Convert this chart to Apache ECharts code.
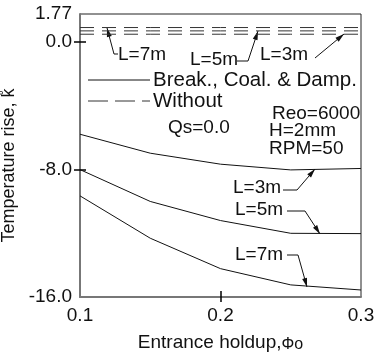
<!DOCTYPE html>
<html>
<head>
<meta charset="utf-8">
<script src="https://cdn.jsdelivr.net/npm/echarts@6/dist/echarts.min.js"></script>
<style>
  html, body { margin: 0; padding: 0; background: #fff; }
  #chart { width: 375px; height: 353px; }
</style>
</head>
<body>
<div id="chart"></div>
<script>
const holdup = [0.1, 0.15, 0.2, 0.25, 0.3];

// Break., Coal. & Damp. (solid)
const solidL3 = [-5.78, -6.97, -7.66, -8.02, -7.93];
const solidL5 = [-8.0, -10.0, -11.2, -12.0, -12.02];
const solidL7 = [-9.65, -12.31, -14.22, -15.24, -15.56];

// Without (dashed)
const dashL7 = [0.92, 0.92, 0.92, 0.92, 0.92];
const dashL5 = [0.71, 0.71, 0.71, 0.71, 0.71];
const dashL3 = [0.5, 0.5, 0.5, 0.5, 0.5];

const yLabels = [-16, -8, 0, 1.77];
const crossTicksY = [0, -8];
const crossTicksX = [0.2];

const FONT = "19px 'Liberation Sans', Arial, sans-serif";
const INK = "#111";

const chart = echarts.init(document.getElementById("chart"));

function pairs(ys) {
  return holdup.map((x, i) => [x, ys[i]]);
}

function lineSeries(name, ys, dashed) {
  return {
    name: name,
    type: "line",
    data: pairs(ys),
    symbol: "none",
    silent: true,
    animation: false,
    lineStyle: {
      color: dashed ? "#333" : INK,
      width: 1,
      type: dashed ? [14, 8] : "solid",
    },
  };
}

function text(str, x, y, font) {
  return {
    type: "text",
    silent: true,
    style: { text: str, x: x, y: y, font: font || FONT, fill: INK, verticalAlign: "middle" },
  };
}

// leader line with a filled arrow head at the last point
function leader(points) {
  const n = points.length;
  const [x1, y1] = points[n - 2];
  const [x2, y2] = points[n - 1];
  const len = Math.hypot(x2 - x1, y2 - y1);
  const ux = (x2 - x1) / len, uy = (y2 - y1) / len;
  const bx = x2 - ux * 9, by = y2 - uy * 9;
  const w = 2.5;
  return [
    {
      type: "polyline",
      silent: true,
      shape: { points: points },
      style: { stroke: INK, lineWidth: 1, fill: null },
    },
    {
      type: "polygon",
      silent: true,
      shape: { points: [[x2, y2], [bx - uy * w, by + ux * w], [bx + uy * w, by - ux * w]] },
      style: { fill: INK },
    },
  ];
}

const LEG_FONT = "20.5px 'Liberation Sans', Arial, sans-serif";

const graphics = [
  { type: "line", silent: true, shape: { x1: 88, y1: 80, x2: 150, y2: 80 }, style: { stroke: INK, lineWidth: 1 } },
  text("Break., Coal. & Damp.", 153, 80, LEG_FONT),
  { type: "line", silent: true, shape: { x1: 88, y1: 101, x2: 150, y2: 101 }, style: { stroke: "#333", lineWidth: 1, lineDash: [20, 7] } },
  text("Without", 153, 101, LEG_FONT),
  text("Reo=6000", 272, 114),
  text("Qs=0.0", 168, 128),
  text("H=2mm", 269, 131),
  text("RPM=50", 269, 149),
  text("L=7m", 118, 55),
  text("L=5m", 190, 60),
  text("L=3m", 260, 55),
  text("L=3m", 233, 188),
  text("L=5m", 235, 210),
  text("L=7m", 235, 255),
]
  .concat(leader([[118, 54], [114, 54], [107, 28]]))
  .concat(leader([[237, 61], [248, 61], [258, 31]]))
  .concat(leader([[315, 58], [344, 34]]))
  .concat(leader([[283, 190], [297, 190], [315, 169]]))
  .concat(leader([[287, 211], [305, 211], [320, 234]]))
  .concat(leader([[287, 255], [298, 255], [307, 287]]));

const tickStyle = { color: "#000", width: 1.5 };

const option = {
  animation: false,
  grid: {
    left: 80,
    right: 14,
    top: 14,
    bottom: 56,
    outerBoundsMode: "none",
    containLabel: false,
    show: true,
    borderColor: "#222",
    borderWidth: 1,
  },
  xAxis: [
    {
      type: "value",
      min: 0.1,
      max: 0.3,
      interval: 0.1,
      position: "bottom",
      name: "Entrance holdup,{s|Φo}",
      nameLocation: "middle",
      nameGap: 36,
      nameTextStyle: {
        color: INK,
        fontSize: 19,
        fontFamily: "Liberation Sans",
        rich: { s: { fontSize: 16, fontFamily: "Liberation Sans", color: INK, padding: [4, 0, 0, 0] } },
      },
      axisLine: { onZero: false, lineStyle: { color: "#777", width: 2 } },
      axisTick: { show: true, inside: true, length: 6, customValues: crossTicksX, lineStyle: tickStyle },
      axisLabel: {
        color: INK,
        fontSize: 19,
        fontFamily: "Liberation Sans",
        margin: 9,
        formatter: (v) => v.toFixed(1),
      },
      splitLine: { show: false },
    },
    {
      type: "value",
      min: 0.1,
      max: 0.3,
      interval: 0.1,
      position: "top",
      offset: -283,
      axisLine: { show: false, onZero: false },
      axisTick: { show: true, inside: true, length: 5, customValues: crossTicksX, lineStyle: tickStyle },
      axisLabel: { show: false },
      splitLine: { show: false },
    },
  ],
  yAxis: [
    {
      type: "value",
      min: -16,
      max: 1.77,
      interval: 8,
      position: "left",
      name: "Temperature rise, k\u030A",
      nameLocation: "middle",
      nameGap: 60,
      nameTextStyle: { color: INK, fontSize: 18, fontFamily: "Liberation Sans", padding: [0, 20, 0, 0] },
      axisLine: { onZero: false, lineStyle: { color: "#777", width: 2 } },
      axisTick: { show: true, inside: true, length: 6, customValues: crossTicksY, lineStyle: tickStyle },
      axisLabel: {
        color: INK,
        fontSize: 19,
        fontFamily: "Liberation Sans",
        margin: 8,
        customValues: yLabels,
        formatter: (v) => (v === 1.77 ? "1.77" : v.toFixed(1)),
      },
      splitLine: { show: false },
    },
    {
      type: "value",
      min: -16,
      max: 1.77,
      interval: 8,
      position: "right",
      offset: -281,
      axisLine: { show: false, onZero: false },
      axisTick: { show: true, inside: true, length: 6, customValues: crossTicksY, lineStyle: tickStyle },
      axisLabel: { show: false },
      splitLine: { show: false },
    },
  ],
  series: [
    lineSeries("L=3m", solidL3, false),
    lineSeries("L=5m", solidL5, false),
    lineSeries("L=7m", solidL7, false),
    lineSeries("L=7m without", dashL7, true),
    lineSeries("L=5m without", dashL5, true),
    lineSeries("L=3m without", dashL3, true),
  ],
  graphic: graphics,
};

chart.setOption(option);
</script>
</body>
</html>
